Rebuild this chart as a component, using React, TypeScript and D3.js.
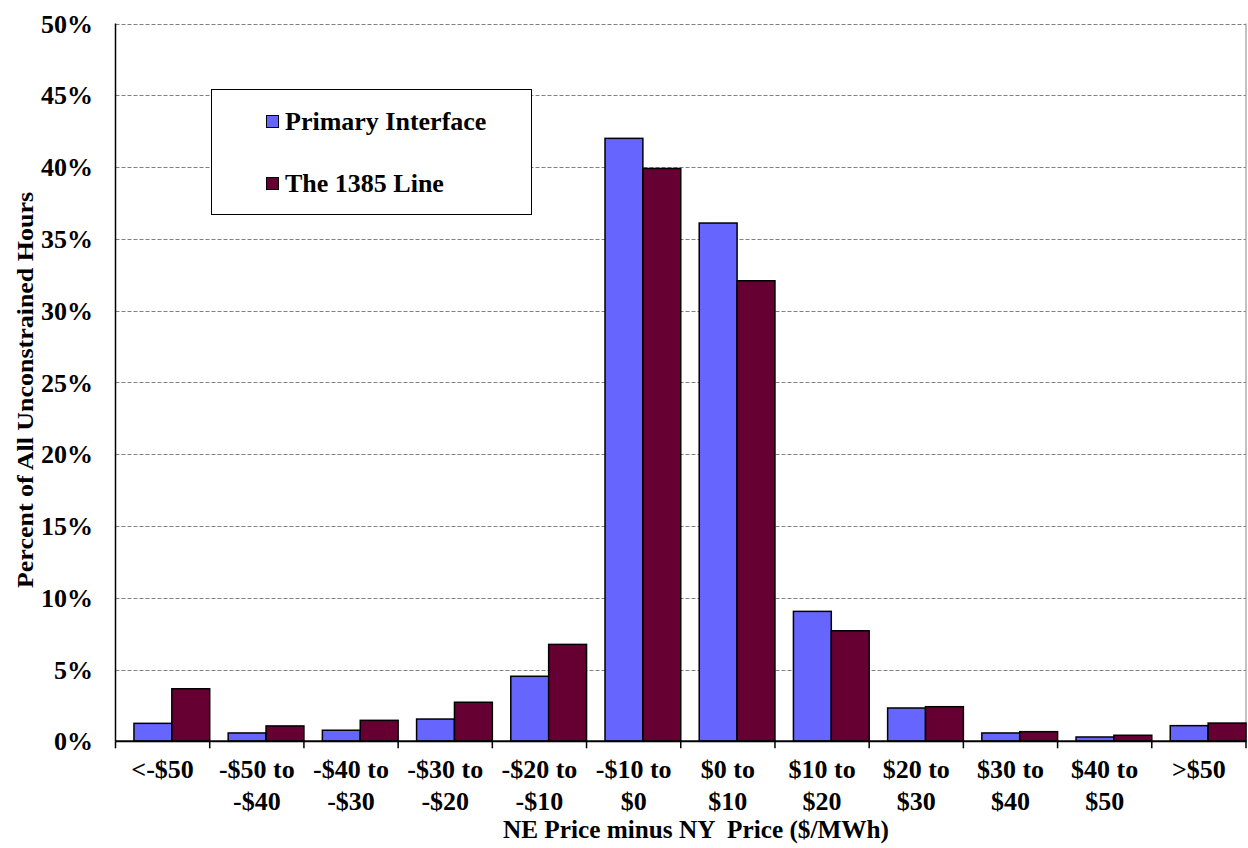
import React from "react";
import * as d3 from "d3";

const categories: string[][] = [
  ["<-$50"],
  ["-$50 to", "-$40"],
  ["-$40 to", "-$30"],
  ["-$30 to", "-$20"],
  ["-$20 to", "-$10"],
  ["-$10 to", "$0"],
  ["$0 to", "$10"],
  ["$10 to", "$20"],
  ["$20 to", "$30"],
  ["$30 to", "$40"],
  ["$40 to", "$50"],
  [">$50"],
];

const primaryInterface = [1.25, 0.58, 0.77, 1.55, 4.53, 42.0, 36.1, 9.05, 2.32, 0.58, 0.3, 1.09];
const line1385 = [3.66, 1.07, 1.46, 2.72, 6.75, 39.9, 32.08, 7.7, 2.41, 0.67, 0.42, 1.27];

const yTicks = [0, 5, 10, 15, 20, 25, 30, 35, 40, 45, 50];

const seriesNames = ["Primary Interface", "The 1385 Line"];
const seriesColors = ["#6666FF", "#660033"];

const W = 1248;
const H = 848;
const left = 115.5;
const right = 1246;
const top = 23.5;
const bottom = 741.3;

const font = "'Liberation Serif', 'Times New Roman', serif";

export default function App() {
  const x = d3
    .scaleBand<number>()
    .domain(d3.range(categories.length))
    .range([left, right])
    .paddingInner(0)
    .paddingOuter(0);
  const y = d3.scaleLinear().domain([0, 50]).range([bottom, top]);

  const bw = x.bandwidth();
  const groupStart = bw * 0.196;
  const barW = (bw - groupStart) / 2;
  const series = [primaryInterface, line1385];

  return (
    <svg
      width={W}
      height={H}
      style={{ position: "absolute", left: 0, top: 0, background: "#fff" }}
      fontFamily={font}
      fontWeight="bold"
    >
      <rect x={0} y={0} width={W} height={H} fill="#fff" />
      {/* gridlines */}
      {yTicks
        .filter((t) => t > 0)
        .map((t) => (
          <line
            key={"g" + t}
            x1={left}
            x2={right}
            y1={Math.round(y(t)) + 0.5}
            y2={Math.round(y(t)) + 0.5}
            stroke="#808080"
            strokeWidth={1}
            strokeDasharray="4,2"
          />
        ))}
      {/* right border of plot area */}
      <line x1={right} x2={right} y1={top} y2={bottom} stroke="#999" strokeWidth={1.2} />

      {/* bars */}
      {series.map((vals, si) =>
        vals.map((v, i) => (
          <rect
            key={`b${si}-${i}`}
            x={(x(i) as number) + groupStart + si * barW}
            y={y(v)}
            width={barW}
            height={bottom - y(v)}
            fill={seriesColors[si]}
            stroke="#000"
            strokeWidth={1.5}
          />
        ))
      )}

      {/* axes */}
      <line x1={left} x2={left} y1={top} y2={bottom} stroke="#000" strokeWidth={1.5} />
      <line x1={left} x2={right} y1={bottom} y2={bottom} stroke="#000" strokeWidth={2} />
      {d3.range(categories.length + 1).map((i) => {
        const xx = i < categories.length ? (x(i) as number) : right;
        return (
          <line key={"t" + i} x1={xx} x2={xx} y1={bottom} y2={bottom + 7} stroke="#000" strokeWidth={1.5} />
        );
      })}

      {/* y tick labels */}
      {yTicks.map((t) => (
        <text key={"yl" + t} x={93} y={y(t)} dy="0.35em" textAnchor="end" fontSize={26} fill="#000">
          {t + "%"}
        </text>
      ))}

      {/* x tick labels */}
      {categories.map((lines, i) => (
        <text
          key={"xl" + i}
          x={(x(i) as number) + bw / 2}
          y={778}
          textAnchor="middle"
          fontSize={26}
          fill="#000"
        >
          {lines.map((ln, k) => (
            <tspan key={k} x={(x(i) as number) + bw / 2} y={778 + k * 32}>
              {ln}
            </tspan>
          ))}
        </text>
      ))}

      {/* axis titles */}
      <text
        x={503}
        y={838}
        fontSize={25}
        fill="#000"
        textLength={386}
        lengthAdjust="spacingAndGlyphs"
        style={{ whiteSpace: "pre" }}
      >
        {"NE Price minus NY  Price ($/MWh)"}
      </text>
      <text
        transform={`translate(33, 588) rotate(-90)`}
        fontSize={24}
        fill="#000"
        textLength={396}
        lengthAdjust="spacingAndGlyphs"
      >
        Percent of All Unconstrained Hours
      </text>

      {/* legend */}
      <rect x={211.5} y={89.5} width={320} height={125} fill="#fff" stroke="#000" strokeWidth={1} />
      {seriesNames.map((name, si) => (
        <g key={"lg" + si}>
          <rect
            x={266.5}
            y={115.5 + si * 62}
            width={12}
            height={12}
            fill={seriesColors[si]}
            stroke="#000"
            strokeWidth={1}
          />
          <text x={285} y={130 + si * 62} fontSize={26} fill="#000">
            {name}
          </text>
        </g>
      ))}
    </svg>
  );
}
